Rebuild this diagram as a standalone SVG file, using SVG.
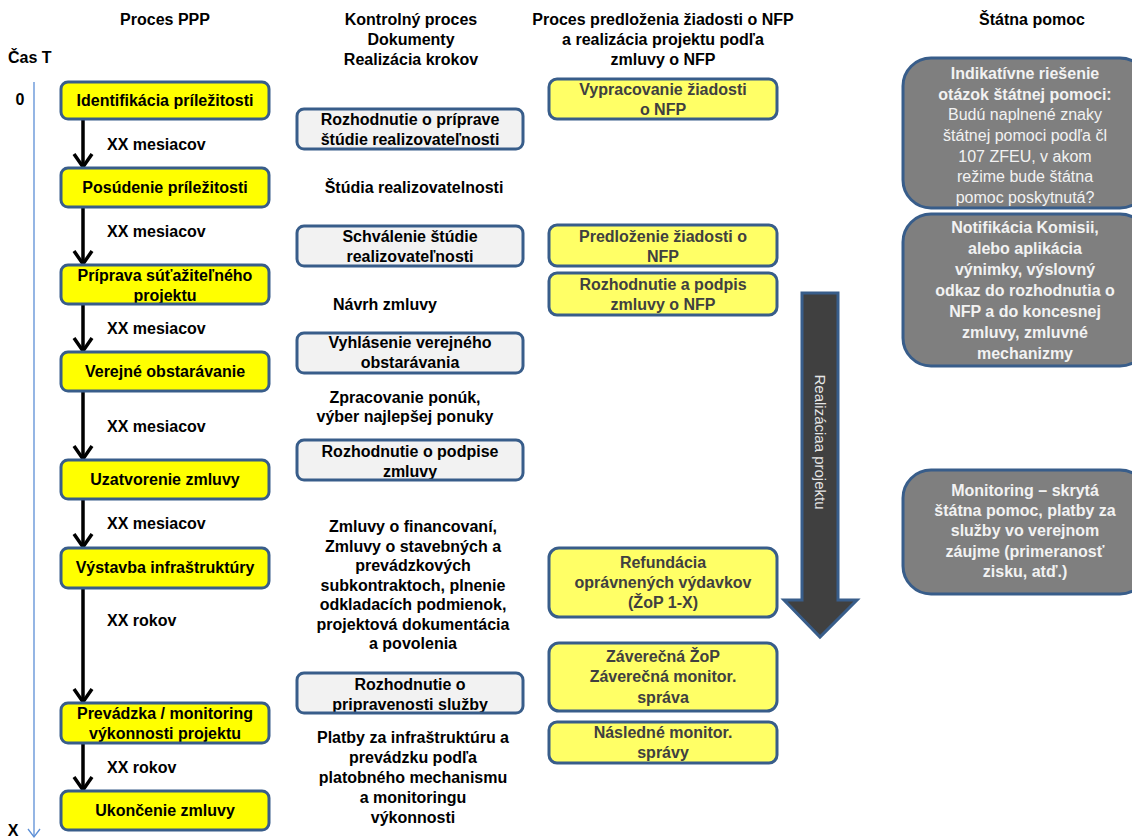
<svg xmlns="http://www.w3.org/2000/svg" width="1132" height="839" viewBox="0 0 1132 839">
  <defs>
    <style>
      text { font-family: "Liberation Sans", Arial, sans-serif; font-size: 16px; font-weight: bold; fill: #000; text-anchor: middle; }
      .start { text-anchor: start; }
      .ppp { fill: #ffff00; }
      .doc { fill: #f2f2f2; }
      .nfp { fill: #ffff66; }
      .aid { fill: #7f7f7f; stroke: #385d8a; stroke-width: 3; }
      .edge { fill: none; stroke: #385d8a; stroke-width: 3; }
      .nfp-t { fill: #404040; }
      .aid-t { fill: #f2f2f2; }
      .reg { font-weight: normal; }
      .flow { stroke: #000; stroke-width: 3.5; fill: none; }
      .axis { stroke: #5b8ed6; stroke-width: 1.3; fill: none; }
    </style>
    <marker id="vee" viewBox="-16 -12 20 24" refX="0" refY="0" markerWidth="20" markerHeight="24" markerUnits="userSpaceOnUse" orient="auto">
      <path d="M-13,-9 L0,0 L-13,9" fill="none" stroke="#000" stroke-width="3.5"/>
    </marker>
  </defs>

  <rect width="1132" height="839" fill="#fff"/>

  <!-- column headings -->
  <g id="headings">
    <text x="165" y="25">Proces PPP</text>
    <text x="411" y="25">Kontrolný proces</text>
    <text x="411" y="45">Dokumenty</text>
    <text x="411" y="65">Realizácia krokov</text>
    <text x="663" y="25">Proces predloženia žiadosti o NFP</text>
    <text x="663" y="45">a realizácia projektu podľa</text>
    <text x="663" y="65">zmluvy o NFP</text>
    <text x="1032" y="25">Štátna pomoc</text>
  </g>

  <!-- time axis -->
  <g id="time-axis">
    <text class="start" x="8" y="63">Čas T</text>
    <text x="20" y="105">0</text>
    <text x="13" y="836">X</text>
    <line class="axis" x1="34" y1="82" x2="34" y2="836"/>
    <path class="axis" d="M28,829 L34,837 L40,829"/>
  </g>

  <!-- PPP process steps and durations -->
  <g id="connectors">
    <line class="flow" x1="83" y1="120" x2="83" y2="167" marker-end="url(#vee)"/>
    <line class="flow" x1="83" y1="208" x2="83" y2="264" marker-end="url(#vee)"/>
    <line class="flow" x1="83" y1="305" x2="83" y2="351" marker-end="url(#vee)"/>
    <line class="flow" x1="83" y1="392" x2="83" y2="459" marker-end="url(#vee)"/>
    <line class="flow" x1="83" y1="500" x2="83" y2="547" marker-end="url(#vee)"/>
    <line class="flow" x1="83" y1="589" x2="83" y2="702" marker-end="url(#vee)"/>
    <line class="flow" x1="83" y1="744" x2="83" y2="790" marker-end="url(#vee)"/>
  </g>

  <g id="durations">
    <text class="start" x="107" y="150">XX mesiacov</text>
    <text class="start" x="107" y="237">XX mesiacov</text>
    <text class="start" x="107" y="334">XX mesiacov</text>
    <text class="start" x="107" y="432">XX mesiacov</text>
    <text class="start" x="107" y="529">XX mesiacov</text>
    <text class="start" x="107" y="626">XX rokov</text>
    <text class="start" x="107" y="773">XX rokov</text>
  </g>

  <g id="ppp-identifikacia">
    <rect class="ppp" x="61" y="82" width="208" height="37" rx="7"/>
    <text x="165" y="106">Identifikácia príležitosti</text>
    <rect class="edge" x="61" y="82" width="208" height="37" rx="7"/>
  </g>
  <g id="ppp-posudenie">
    <rect class="ppp" x="61" y="168" width="208" height="39" rx="7"/>
    <text x="165" y="193">Posúdenie príležitosti</text>
    <rect class="edge" x="61" y="168" width="208" height="39" rx="7"/>
  </g>
  <g id="ppp-priprava">
    <rect class="ppp" x="61" y="265" width="208" height="39" rx="7"/>
    <text x="165" y="281">Príprava súťažiteľného</text>
    <text x="165" y="301">projektu</text>
    <rect class="edge" x="61" y="265" width="208" height="39" rx="7"/>
  </g>
  <g id="ppp-obstaravanie">
    <rect class="ppp" x="61" y="352" width="208" height="39" rx="7"/>
    <text x="165" y="377">Verejné obstarávanie</text>
    <rect class="edge" x="61" y="352" width="208" height="39" rx="7"/>
  </g>
  <g id="ppp-uzatvorenie">
    <rect class="ppp" x="61" y="460" width="208" height="39" rx="7"/>
    <text x="165" y="485">Uzatvorenie zmluvy</text>
    <rect class="edge" x="61" y="460" width="208" height="39" rx="7"/>
  </g>
  <g id="ppp-vystavba">
    <rect class="ppp" x="61" y="548" width="208" height="40" rx="7"/>
    <text x="165" y="573">Výstavba infraštruktúry</text>
    <rect class="edge" x="61" y="548" width="208" height="40" rx="7"/>
  </g>
  <g id="ppp-prevadzka">
    <rect class="ppp" x="61" y="703" width="208" height="40" rx="7"/>
    <text x="165" y="719">Prevádzka / monitoring</text>
    <text x="165" y="739">výkonnosti projektu</text>
    <rect class="edge" x="61" y="703" width="208" height="40" rx="7"/>
  </g>
  <g id="ppp-ukoncenie">
    <rect class="ppp" x="61" y="791" width="208" height="39" rx="7"/>
    <text x="165" y="816">Ukončenie zmluvy</text>
    <rect class="edge" x="61" y="791" width="208" height="39" rx="7"/>
  </g>

  <!-- control process documents -->
  <g id="doc-rozhodnutie-priprava">
    <rect class="doc" x="297" y="109" width="226" height="40" rx="7"/>
    <text x="410" y="125">Rozhodnutie o príprave</text>
    <text x="410" y="145">štúdie realizovateľnosti</text>
    <rect class="edge" x="297" y="109" width="226" height="40" rx="7"/>
  </g>
  <g id="doc-studia">
    <text x="414" y="193">Štúdia realizovatelnosti</text>
  </g>
  <g id="doc-schvalenie">
    <rect class="doc" x="297" y="226" width="226" height="40" rx="7"/>
    <text x="410" y="242">Schválenie štúdie</text>
    <text x="410" y="262">realizovateľnosti</text>
    <rect class="edge" x="297" y="226" width="226" height="40" rx="7"/>
  </g>
  <g id="doc-navrh">
    <text x="385" y="310">Návrh zmluvy</text>
  </g>
  <g id="doc-vyhlasenie">
    <rect class="doc" x="297" y="333" width="226" height="40" rx="7"/>
    <text x="410" y="348">Vyhlásenie verejného</text>
    <text x="410" y="368">obstarávania</text>
    <rect class="edge" x="297" y="333" width="226" height="40" rx="7"/>
  </g>
  <g id="doc-ponuky">
    <text x="405" y="403">Zpracovanie ponúk,</text>
    <text x="405" y="422">výber najlepšej ponuky</text>
  </g>
  <g id="doc-rozhodnutie-podpis">
    <rect class="doc" x="297" y="440" width="226" height="40" rx="7"/>
    <text x="410" y="457">Rozhodnutie o podpise</text>
    <text x="410" y="477">zmluvy</text>
    <rect class="edge" x="297" y="440" width="226" height="40" rx="7"/>
  </g>
  <g id="doc-zmluvy">
    <text x="413" y="532">Zmluvy o financovaní,</text>
    <text x="413" y="551.5">Zmluvy o stavebných  a</text>
    <text x="413" y="571">prevádzkových</text>
    <text x="413" y="590.5">subkontraktoch, plnenie</text>
    <text x="413" y="610">odkladacích podmienok,</text>
    <text x="413" y="629.5">projektová dokumentácia</text>
    <text x="413" y="649">a povolenia</text>
  </g>
  <g id="doc-pripravenost">
    <rect class="doc" x="297" y="673" width="226" height="40" rx="7"/>
    <text x="410" y="690">Rozhodnutie o</text>
    <text x="410" y="710">pripravenosti služby</text>
    <rect class="edge" x="297" y="673" width="226" height="40" rx="7"/>
  </g>
  <g id="doc-platby">
    <text x="413" y="743">Platby za infraštruktúru  a</text>
    <text x="413" y="763">prevádzku podľa</text>
    <text x="413" y="783">platobného mechanismu</text>
    <text x="413" y="803">a monitoringu</text>
    <text x="413" y="823">výkonnosti</text>
  </g>

  <!-- NFP application and project implementation -->
  <g id="nfp-vypracovanie">
    <rect class="nfp" x="549" y="79" width="228" height="40" rx="8"/>
    <text class="nfp-t" x="663" y="95">Vypracovanie žiadosti</text>
    <text class="nfp-t" x="663" y="115">o NFP</text>
    <rect class="edge" x="549" y="79" width="228" height="40" rx="8"/>
  </g>
  <g id="nfp-predlozenie">
    <rect class="nfp" x="549" y="225" width="228" height="41" rx="8"/>
    <text class="nfp-t" x="663" y="242">Predloženie žiadosti o</text>
    <text class="nfp-t" x="663" y="262">NFP</text>
    <rect class="edge" x="549" y="225" width="228" height="41" rx="8"/>
  </g>
  <g id="nfp-podpis">
    <rect class="nfp" x="549" y="273" width="228" height="42" rx="8"/>
    <text class="nfp-t" x="663" y="290">Rozhodnutie a podpis</text>
    <text class="nfp-t" x="663" y="310">zmluvy o NFP</text>
    <rect class="edge" x="549" y="273" width="228" height="42" rx="8"/>
  </g>
  <g id="nfp-refundacia">
    <rect class="nfp" x="549" y="548" width="228" height="69" rx="10"/>
    <text class="nfp-t" x="663" y="568">Refundácia</text>
    <text class="nfp-t" x="663" y="588">oprávnených výdavkov</text>
    <text class="nfp-t" x="663" y="608">(ŽoP 1-X)</text>
    <rect class="edge" x="549" y="548" width="228" height="69" rx="10"/>
  </g>
  <g id="nfp-zaverecna">
    <rect class="nfp" x="549" y="643" width="228" height="68" rx="10"/>
    <text class="nfp-t" x="663" y="662">Záverečná ŽoP</text>
    <text class="nfp-t" x="663" y="682">Záverečná monitor.</text>
    <text class="nfp-t" x="663" y="703">správa</text>
    <rect class="edge" x="549" y="643" width="228" height="68" rx="10"/>
  </g>
  <g id="nfp-nasledne">
    <rect class="nfp" x="549" y="722" width="228" height="41" rx="8"/>
    <text class="nfp-t" x="663" y="738">Následné monitor.</text>
    <text class="nfp-t" x="663" y="758">správy</text>
    <rect class="edge" x="549" y="722" width="228" height="41" rx="8"/>
  </g>

  <!-- project implementation block arrow -->
  <g id="realizacia">
    <path d="M802,293 L838,293 L838,600 L857,600 L820,637 L784,600 L802,600 Z" fill="#404040" stroke="#385d8a" stroke-width="3" stroke-linejoin="miter"/>
    <text class="reg" transform="translate(820,442) rotate(90)" x="0" y="5" style="font-size:15px; fill:#e6e6e6;">Realizáciaa  projektu</text>
  </g>

  <!-- state aid -->
  <g id="aid-indikativne">
    <rect class="aid" x="903" y="58" width="245" height="150" rx="28"/>
    <text class="aid-t" x="1025" y="79">Indikatívne riešenie</text>
    <text class="aid-t" x="1025" y="100">otázok štátnej pomoci:</text>
    <text class="aid-t reg" x="1025" y="120">Budú naplnené znaky</text>
    <text class="aid-t reg" x="1025" y="141">štátnej pomoci podľa čl</text>
    <text class="aid-t reg" x="1025" y="162">107 ZFEU, v akom</text>
    <text class="aid-t reg" x="1025" y="182">režime bude štátna</text>
    <text class="aid-t reg" x="1025" y="203">pomoc poskytnutá?</text>
  </g>
  <g id="aid-notifikacia">
    <rect class="aid" x="903" y="214" width="245" height="152" rx="28"/>
    <text class="aid-t" x="1025" y="233">Notifikácia Komisii,</text>
    <text class="aid-t" x="1025" y="254">alebo aplikácia</text>
    <text class="aid-t" x="1025" y="275">výnimky, výslovný</text>
    <text class="aid-t" x="1025" y="296">odkaz do rozhodnutia o</text>
    <text class="aid-t" x="1025" y="317">NFP a do koncesnej</text>
    <text class="aid-t" x="1025" y="338">zmluvy, zmluvné</text>
    <text class="aid-t" x="1025" y="359">mechanizmy</text>
  </g>
  <g id="aid-monitoring">
    <rect class="aid" x="903" y="470" width="245" height="124" rx="28"/>
    <text class="aid-t" x="1025" y="496">Monitoring – skrytá</text>
    <text class="aid-t" x="1025" y="516">štátna pomoc, platby za</text>
    <text class="aid-t" x="1025" y="536">služby vo verejnom</text>
    <text class="aid-t" x="1025" y="557">záujme (primeranosť</text>
    <text class="aid-t" x="1025" y="577">zisku, atď.)</text>
  </g>
</svg>
